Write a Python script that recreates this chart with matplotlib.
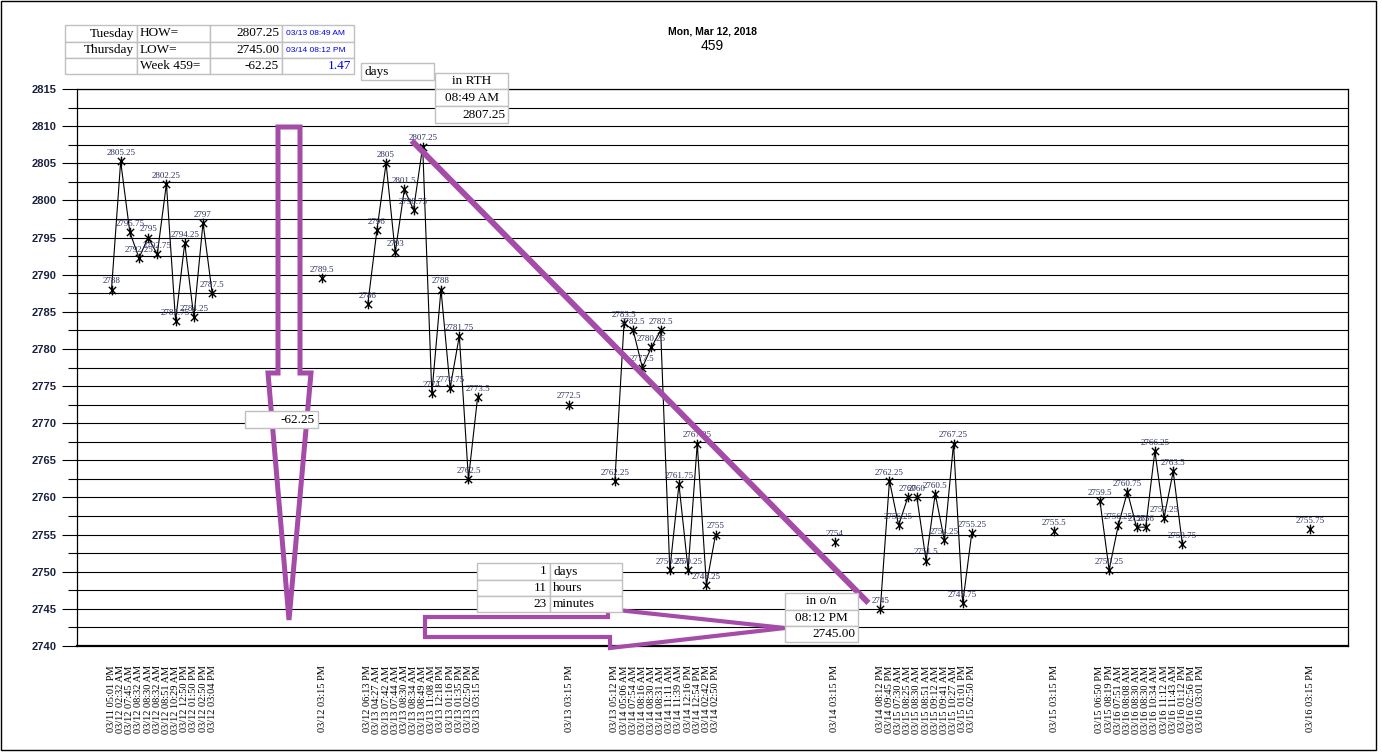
import matplotlib
matplotlib.use("Agg")
import matplotlib.pyplot as plt
from matplotlib.patches import Polygon, Rectangle
from matplotlib.path import Path
import numpy as np

# ---------------- data ----------------
title_date = "Mon, Mar 12, 2018"
week_no = "459"

g1_labels = ["03/11 05:01 PM", "03/12 02:32 AM", "03/12 07:45 AM", "03/12 08:32 AM",
             "03/12 08:30 AM", "03/12 08:32 AM", "03/12 08:51 AM", "03/12 10:29 AM",
             "03/12 12:50 PM", "03/12 01:50 PM", "03/12 02:50 PM", "03/12 03:04 PM"]
g1_values = [2788, 2805.25, 2795.75, 2792.25, 2795, 2792.75, 2802.25, 2783.75,
             2794.25, 2784.25, 2797, 2787.5]

g2_labels = ["03/12 06:13 PM", "03/13 04:27 AM", "03/13 07:42 AM", "03/13 07:44 AM",
             "03/13 08:30 AM", "03/13 08:34 AM", "03/13 08:49 AM", "03/13 11:08 AM",
             "03/13 12:18 PM", "03/13 01:16 PM", "03/13 01:35 PM", "03/13 02:50 PM",
             "03/13 03:15 PM"]
g2_values = [2786, 2796, 2805, 2793, 2801.5, 2798.75, 2807.25, 2774, 2788,
             2774.75, 2781.75, 2762.5, 2773.5]

g3_labels = ["03/13 05:12 PM", "03/14 05:06 AM", "03/14 07:54 AM", "03/14 08:16 AM",
             "03/14 08:30 AM", "03/14 08:31 AM", "03/14 11:11 AM", "03/14 11:39 AM",
             "03/14 12:16 PM", "03/14 12:54 PM", "03/14 02:42 PM", "03/14 02:50 PM"]
g3_values = [2762.25, 2783.5, 2782.5, 2777.5, 2780.25, 2782.5, 2750.25, 2761.75,
             2750.25, 2767.25, 2748.25, 2755]

g4_labels = ["03/14 08:12 PM", "03/14 09:45 PM", "03/15 07:30 AM", "03/15 08:25 AM",
             "03/15 08:30 AM", "03/15 08:51 AM", "03/15 09:12 AM", "03/15 09:41 AM",
             "03/15 10:27 AM", "03/15 01:01 PM", "03/15 02:50 PM"]
g4_values = [2745, 2762.25, 2756.25, 2760, 2760, 2751.5, 2760.5, 2754.25,
             2767.25, 2745.75, 2755.25]

g5_labels = ["03/15 06:50 PM", "03/15 08:19 PM", "03/16 07:51 AM", "03/16 08:08 AM",
             "03/16 08:30 AM", "03/16 08:30 AM", "03/16 10:34 AM", "03/16 11:12 AM",
             "03/16 11:43 AM", "03/16 01:12 PM", "03/16 02:56 PM", "03/16 03:01 PM"]
g5_values = [2759.5, 2750.25, 2756.25, 2760.75, 2756, 2756, 2766.25, 2757.25,
             2763.5, 2753.75, None, None]

close_labels = ["03/12 03:15 PM", "03/13 03:15 PM", "03/14 03:15 PM",
                "03/15 03:15 PM", "03/16 03:15 PM"]
close_values = [2789.5, 2772.5, 2754, 2755.5, 2755.75]

# number of empty categories between a session and its close, and after the close
blanks_before_close = [11, 9, 12, 8, 11]
blanks_after_close = [4, 4, 4, 4]

HOW, HOW_time, HOW_day = 2807.25, "03/13 08:49 AM", "Tuesday"
LOW, LOW_time, LOW_day = 2745.00, "03/14 08:12 PM", "Thursday"
week_range = -62.25
elapsed_days = 1.47
elapsed = [("1", "days"), ("11", "hours"), ("23", "minutes")]

# ---------------- build category axis ----------------
groups = [(g1_labels, g1_values), (g2_labels, g2_values), (g3_labels, g3_values),
          (g4_labels, g4_values), (g5_labels, g5_values)]
cat_labels, cat_values = [], []
for k, (labs, vals) in enumerate(groups):
    cat_labels += labs
    cat_values += vals
    cat_labels += [""] * blanks_before_close[k]
    cat_values += [None] * blanks_before_close[k]
    cat_labels.append(close_labels[k])
    cat_values.append(close_values[k])
    if k < len(blanks_after_close):
        cat_labels += [""] * blanks_after_close[k]
        cat_values += [None] * blanks_after_close[k]

xs = np.arange(len(cat_labels))
ys = np.array([np.nan if v is None else v for v in cat_values], dtype=float)

# ---------------- figure ----------------
W, H = 1382, 754
fig = plt.figure(figsize=(W / 100, H / 100), dpi=100)
fig.patch.set_facecolor("white")

def fx(px):
    return px / W

def fy(py):
    return 1 - py / H

ax_l, ax_r, ax_t, ax_b = 77, 1348, 89, 646
ax = fig.add_axes([fx(ax_l), fy(ax_b), fx(ax_r) - fx(ax_l), fy(ax_t) - fy(ax_b)])
ax.set_facecolor("white")

ax.set_ylim(2740, 2815)
ax.set_xlim(-3.77, 135.1)

ax.set_yticks(np.arange(2740, 2815.1, 5))
ax.set_yticks(np.arange(2742.5, 2815, 5), minor=True)
ax.grid(which="both", axis="y", color="black", linewidth=0.8, zorder=0)
ax.tick_params(axis="y", which="major", direction="out", length=10.8, width=0.8,
               pad=4, labelsize=8, labelcolor="#1a2040")
ax.tick_params(axis="y", which="minor", direction="out", length=6.5, width=0.8)
ax.yaxis.set_major_formatter(matplotlib.ticker.FormatStrFormatter("%d"))
for lab in ax.get_yticklabels():
    lab.set_fontfamily("Liberation Sans")
    lab.set_fontweight("bold")

tick_pos = [i for i, l in enumerate(cat_labels) if l]
ax.set_xticks(tick_pos)
ax.set_xticklabels([cat_labels[i] for i in tick_pos], rotation=90,
                   fontfamily="Liberation Serif", fontsize=7.5)
ax.tick_params(axis="x", length=0, pad=14)

for sp in ["left", "right", "top"]:
    ax.spines[sp].set_linewidth(0.9)
ax.spines["bottom"].set_linewidth(1.6)

# star marker (vertical line + X)
star = Path([(0, -1), (0, 1), (-0.75, -0.75), (0.75, 0.75), (-0.75, 0.75), (0.75, -0.75)],
            [Path.MOVETO, Path.LINETO] * 3)
ax.plot(xs, ys, color="black", linewidth=0.8, marker=star, markersize=7,
        markeredgewidth=1.0, markeredgecolor="black", zorder=3)

for x, y in zip(xs, ys):
    if np.isnan(y):
        continue
    ax.annotate(f"{y:g}", (x, y), xytext=(0, 3), textcoords="offset points",
                ha="center", va="bottom", fontsize=6.5, family="Liberation Serif",
                color="#2a3060", zorder=4)

purple = "#a44ca8"

# HOW -> LOW diagonal
how_i = int(np.nanargmax(ys))
low_i = int(np.nanargmin(ys))
ax.plot([xs[how_i] - 1.2, xs[low_i] - 1.3], [ys[how_i] + 0.8, ys[low_i] + 0.8],
        color=purple, linewidth=4.2, solid_capstyle="butt", zorder=5)

# title
fig.text(fx(712), fy(32), title_date, ha="center", va="center", fontsize=7.5,
         fontweight="bold", family="Liberation Sans")
fig.text(fx(712), fy(46), week_no, ha="center", va="center", fontsize=10,
         family="Liberation Sans")

# ---------------- decorations ----------------
def poly(pts, lw, z):
    p = Polygon([(fx(a), fy(b)) for a, b in pts], closed=True, fill=False,
                edgecolor=purple, linewidth=lw, transform=fig.transFigure,
                zorder=z, joinstyle="miter")
    fig.add_artist(p)

# down arrow
poly([(278, 127), (300, 127), (300, 373), (311, 373), (289, 620), (268, 373),
      (278, 373)], 3.6, 6)
# right arrow
poly([(425, 617), (608, 617), (608, 609), (785, 628), (610, 648), (610, 637),
      (425, 637)], 3.0, 6)

def box(x0, y0, x1, y1, z=8):
    r = Rectangle((fx(x0), fy(y1)), fx(x1) - fx(x0), fy(y0) - fy(y1),
                  facecolor="white", edgecolor="#c0c0c0", linewidth=1.0,
                  transform=fig.transFigure, zorder=z)
    fig.add_artist(r)

def txt(x, y, s, ha="left", color="black", size=9.5, family="Liberation Serif"):
    fig.text(fx(x), fy(y), s, ha=ha, va="center", color=color, fontsize=size,
             family=family, zorder=10)

# top-left table
cols = [65, 137, 210, 282, 354]
rows = [25, 42, 58, 74]
for r in range(3):
    for c in range(4):
        box(cols[c], rows[r], cols[c + 1], rows[r + 1])
ymid = [(rows[i] + rows[i + 1]) / 2 for i in range(3)]
txt(134, ymid[0], HOW_day, ha="right")
txt(140, ymid[0], "HOW=")
txt(279, ymid[0], f"{HOW:.2f}", ha="right")
txt(286, ymid[0], HOW_time, color="#0000ee", size=6, family="Liberation Sans")
txt(134, ymid[1], LOW_day, ha="right")
txt(140, ymid[1], "LOW=")
txt(279, ymid[1], f"{LOW:.2f}", ha="right")
txt(286, ymid[1], LOW_time, color="#0000ee", size=6, family="Liberation Sans")
txt(140, ymid[2], f"Week {week_no}=")
txt(279, ymid[2], f"{week_range:.2f}", ha="right")
txt(351, ymid[2], f"{elapsed_days:.2f}", ha="right", color="#0000ee")

# days box
box(361, 63, 434, 80)
txt(364, 72, "days")

# in RTH box
rth_rows = [73, 89, 106, 123]
for i in range(3):
    box(435, rth_rows[i], 508, rth_rows[i + 1])
txt(472, 81, "in RTH", ha="center")
txt(472, 98, HOW_time[6:], ha="center")
txt(505, 115, f"{HOW:.2f}", ha="right")

# range box
box(245, 411, 318, 428)
txt(315, 420, f"{week_range:.2f}", ha="right")

# elapsed table
el_rows = [563, 580, 596, 612]
for i, (n, unit) in enumerate(elapsed):
    box(477, el_rows[i], 550, el_rows[i + 1])
    box(550, el_rows[i], 622, el_rows[i + 1])
    ym = (el_rows[i] + el_rows[i + 1]) / 2
    txt(547, ym, n, ha="right")
    txt(553, ym, unit)

# in o/n box
on_rows = [593, 610, 626, 642]
for i in range(3):
    box(785, on_rows[i], 858, on_rows[i + 1])
txt(821, 601, "in o/n", ha="center")
txt(821, 618, LOW_time[6:], ha="center")
txt(855, 634, f"{LOW:.2f}", ha="right")

# outer border
fig.add_artist(Rectangle((fx(1), fy(750)), fx(1376) - fx(1), fy(1) - fy(750),
                         fill=False, edgecolor="black", linewidth=1.0,
                         transform=fig.transFigure, zorder=20))

fig.savefig("out.png", dpi=100)
